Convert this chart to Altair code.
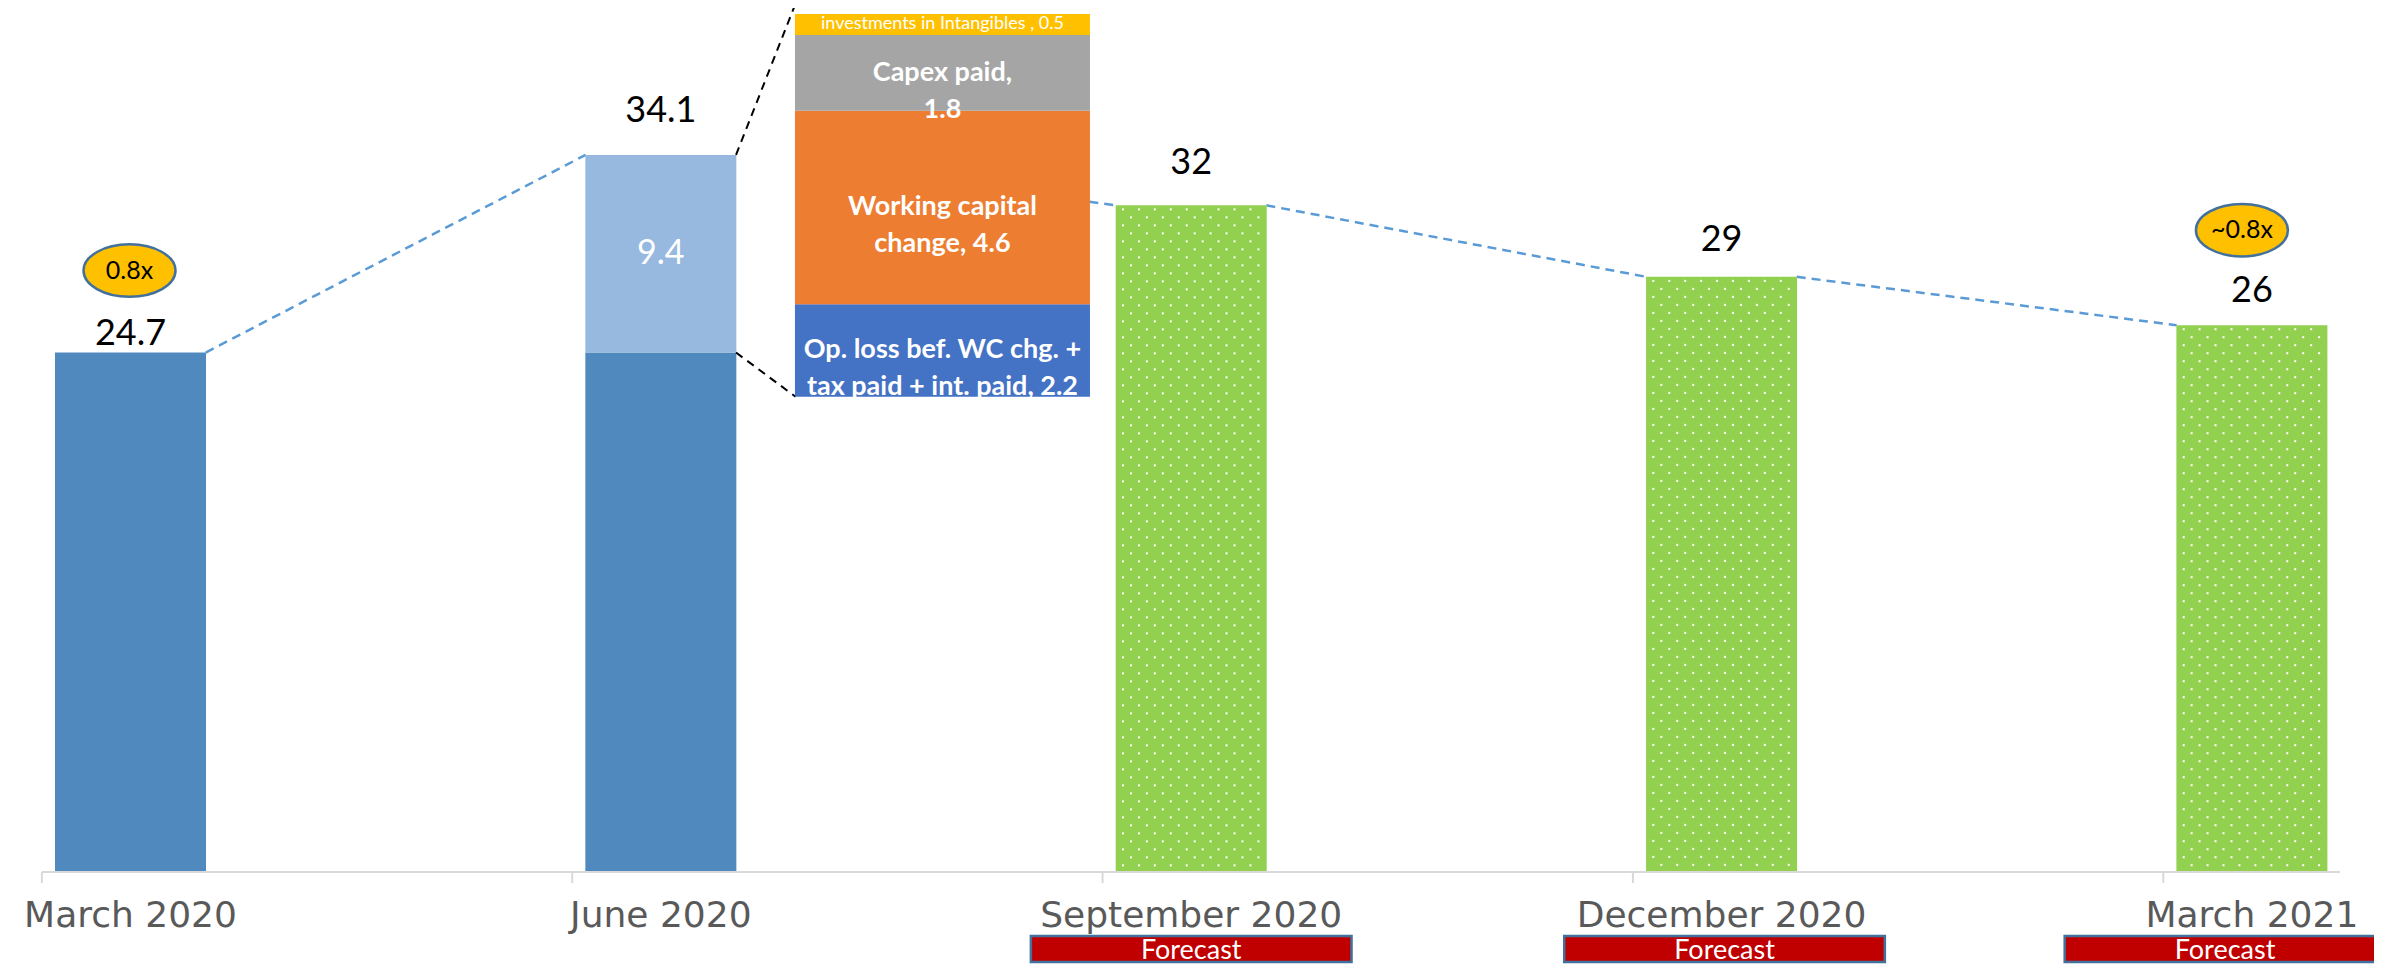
import altair as alt
import pandas as pd

# ---------------- data ----------------
periods = ["March 2020", "June 2020", "September 2020", "December 2020", "March 2021"]
bar_values = [24.7, 34.1, 31.7, 28.3, 26.0]
value_labels = ["24.7", "34.1", "32", "29", "26"]
is_forecast = [False, False, True, True, True]
june_base = 24.7
june_increase = 9.4
june_increase_label = "9.4"

breakdown_labels = [
    "Op. loss bef. WC chg. +\ntax paid + int. paid, 2.2",
    "Working capital\nchange, 4.6",
    "Capex paid,\n1.8",
    "investments in Intangibles , 0.5",
]
breakdown_values = [2.2, 4.6, 1.8, 0.5]
breakdown_base = 22.6
breakdown_zoom = 2.0

multiple_labels = ["0.8x", "~0.8x"]
multiple_periods = ["March 2020", "March 2021"]
forecast_text = "Forecast"

# ---------------- layout / style ----------------
PLOT_W, PLOT_H = 2366, 864
PAD_BOTTOM = 92
PX_STEP = 532.6          # px between category centres
PX_UNIT = 21.03          # px per value unit
FIRST_CENTER = 118       # px of first bar centre
BAR_PX = 151
STACK_PX = 295
STACK_OFFSET = 0.531     # breakdown column offset from June (steps)
BOX_PX = 322
AXIS_START = -0.1671
AXIS_END = 4.1664
TICK_PX = 11
label_gap_px = [8, 33, 31, 26, 23]
oval_lift_px = [82, 95]
oval_dx_px = [-1, -10]
box_shift_px = [0, 3, -27]

C_ACTUAL = "#4F89BD"
C_INCREASE = "#97B9E0"
C_FORECAST = "#92D050"
breakdown_colors = ["#4472C4", "#ED7D31", "#A5A5A5", "#FFC000"]

xs = alt.Scale(domain=[-FIRST_CENTER / PX_STEP, (PLOT_W - FIRST_CENTER) / PX_STEP], nice=False, zero=False)
ys = alt.Scale(domain=[0, PLOT_H / PX_UNIT], nice=False, zero=False)
hw = BAR_PX / 2 / PX_STEP


def X(f):
    return alt.X(f, type="quantitative", scale=xs, axis=None)


def Y(f):
    return alt.Y(f, type="quantitative", scale=ys, axis=None)


# ---------------- tables ----------------
bars = []
for i, (p, v, fc) in enumerate(zip(periods, bar_values, is_forecast)):
    if fc:
        bars.append(dict(i=i, y0=0.0, y1=v, kind="forecast"))
    elif p == "June 2020":
        bars.append(dict(i=i, y0=0.0, y1=june_base, kind="actual"))
        bars.append(dict(i=i, y0=june_base, y1=june_base + june_increase, kind="increase"))
    else:
        bars.append(dict(i=i, y0=0.0, y1=v, kind="actual"))
bars_df = pd.DataFrame(bars)
fc_df = bars_df[bars_df.kind == "forecast"].reset_index(drop=True)

june_i = periods.index("June 2020")
stack_c = june_i + STACK_OFFSET
stack_hw = STACK_PX / 2 / PX_STEP

segs = []
for k in range(len(bar_values) - 1):
    x0, x1 = k + hw, k + 1 - hw
    y0, y1 = bar_values[k], bar_values[k + 1]
    if k == june_i:
        # the part running behind the breakdown column is hidden
        xr = stack_c + stack_hw
        y0 = y0 + (y1 - y0) * (xr - x0) / (x1 - x0)
        x0 = xr
    segs.append(dict(x0=x0, x1=x1, y0=y0, y1=y1))
seg_df = pd.DataFrame(segs)

stk = []
acc = breakdown_base
for lab, v, c in zip(breakdown_labels, breakdown_values, breakdown_colors):
    y0 = acc
    y1 = acc + v * breakdown_zoom
    stk.append(dict(x=stack_c, y0=y0, y1=y1, ym=(y0 + y1) / 2, label=lab, color=c,
                    small=lab.startswith("investments")))
    acc = y1
stk_df = pd.DataFrame(stk)

black_df = pd.DataFrame([
    dict(x0=june_i + hw, y0=june_base + june_increase, x1=stack_c - stack_hw, y1=acc + 0.5),
    dict(x0=june_i + hw, y0=june_base, x1=stack_c - stack_hw, y1=breakdown_base),
])

lab_df = pd.DataFrame(dict(
    i=list(range(len(periods))),
    y=[v + g / PX_UNIT for v, g in zip(bar_values, label_gap_px)],
    text=value_labels,
    period=periods,
    base=[0.0] * len(periods),
))

oval_df = pd.DataFrame([
    dict(x=periods.index(p) + dx / PX_STEP, y=bar_values[periods.index(p)] + l / PX_UNIT, text=t)
    for p, t, l, dx in zip(multiple_periods, multiple_labels, oval_lift_px, oval_dx_px)
])

fc_idx = [i for i, f in enumerate(is_forecast) if f]
box_df = pd.DataFrame([
    dict(xc=i + s / PX_STEP, x0=i + s / PX_STEP - BOX_PX / 2 / PX_STEP,
         x1=i + s / PX_STEP + BOX_PX / 2 / PX_STEP, text=forecast_text)
    for i, s in zip(fc_idx, box_shift_px)
])

tick_df = pd.DataFrame(dict(x=[i + AXIS_START for i in range(len(periods))],
                            y0=[0.0] * len(periods), y1=[-TICK_PX / PX_UNIT] * len(periods)))
axis_df = pd.DataFrame(dict(x0=[AXIS_START], x1=[AXIS_END], y=[0.0]))

inc_df = pd.DataFrame(dict(x=[june_i], y=[june_base + june_increase / 2], text=[june_increase_label]))

# ---------------- layers ----------------
connector = alt.Chart(seg_df).mark_rule(color="#5B9BD5", strokeWidth=2.5, strokeDash=[9, 6]).encode(
    x=X("x0"), x2="x1", y=Y("y0"), y2="y1")

main_bars = alt.Chart(bars_df).mark_bar(size=BAR_PX).encode(
    x=X("i"), y=Y("y0"), y2="y1",
    color=alt.Color("kind:N", scale=alt.Scale(domain=["actual", "increase", "forecast"],
                                              range=[C_ACTUAL, C_INCREASE, C_FORECAST]), legend=None))

dots = alt.Chart(fc_df).transform_calculate(
    col="sequence(0, 10)"
).transform_flatten(["col"]).transform_calculate(
    row=f"sequence(0, floor(datum.y1*{PX_UNIT}/8))"
).transform_flatten(["row"]).transform_calculate(
    off="7 + 16*datum.col + 8*(datum.row % 2)"
).transform_filter(f"datum.off < {BAR_PX - 1}").transform_calculate(
    dx=f"datum.i - {hw} + datum.off/{PX_STEP}",
    dy=f"datum.y1 - (4 + 8*datum.row)/{PX_UNIT}",
).transform_filter("datum.dy > 0.1").mark_square(size=4, color="white", opacity=1).encode(
    x=X("dx"), y=Y("dy"))

black_lines = alt.Chart(black_df).mark_rule(color="black", strokeWidth=2, strokeDash=[8, 6]).encode(
    x=X("x0"), x2="x1", y=Y("y0"), y2="y1")

stack = alt.Chart(stk_df).mark_bar(size=STACK_PX).encode(
    x=X("x"), y=Y("y0"), y2="y1", color=alt.Color("color:N", scale=None))

stack_text = alt.Chart(stk_df).transform_filter("!datum.small").mark_text(
    font="Lato", fontWeight="bold", fontSize=27, color="white", lineBreak="\n",
    lineHeight=37, baseline="middle", align="center").encode(x=X("x"), y=Y("ym"), text="label:N")

stack_small = alt.Chart(stk_df).transform_filter("datum.small").mark_text(
    font="Lato", fontSize=18, color="white", baseline="middle", align="center").encode(
    x=X("x"), y=Y("ym"), text="label:N")

value_text = alt.Chart(lab_df).mark_text(font="Lato", fontSize=36, color="black",
                                         baseline="alphabetic", align="center").encode(
    x=X("i"), y=Y("y"), text="text:N")

inc_text = alt.Chart(inc_df).mark_text(font="Lato", fontSize=34, color="white",
                                       baseline="middle", align="center").encode(
    x=X("x"), y=Y("y"), text="text:N")

oval_path = "M -1 0 A 1 0.57 0 1 0 1 0 A 1 0.57 0 1 0 -1 0 Z"
ovals = alt.Chart(oval_df).mark_point(shape=oval_path, size=92 * 92, filled=True, fill="#FFC000",
                                      stroke="#41719C", strokeWidth=2.5, opacity=1).encode(
    x=X("x"), y=Y("y"))
oval_text = alt.Chart(oval_df).mark_text(font="Lato", fontSize=25, color="black",
                                         baseline="middle", align="center").encode(
    x=X("x"), y=Y("y"), text="text:N")

axis_line = alt.Chart(axis_df).mark_rule(color="#D9D9D9", strokeWidth=2).encode(
    x=X("x0"), x2="x1", y=Y("y"))
ticks = alt.Chart(tick_df).mark_rule(color="#D9D9D9", strokeWidth=2).encode(
    x=X("x"), y=Y("y0"), y2="y1")
axis_labels = alt.Chart(lab_df).mark_text(font="DejaVu Sans", fontSize=36, color="#595959",
                                          baseline="alphabetic", align="center", dy=55).encode(
    x=X("i"), y=Y("base"), text="period:N")

boxes = alt.Chart(box_df).mark_rect(fill="#C00000", stroke="#41719C", strokeWidth=2.5).encode(
    x=X("x0"), x2="x1", y=alt.value(928), y2=alt.value(954))
box_text = alt.Chart(box_df).mark_text(font="Lato", fontSize=27, color="white",
                                       baseline="alphabetic", align="center").encode(
    x=X("xc"), y=alt.value(951), text="text:N")

chart = alt.layer(
    connector, main_bars, dots, black_lines, stack, stack_text, stack_small,
    value_text, inc_text, ovals, oval_text, axis_line, ticks, axis_labels, boxes, box_text,
).properties(
    width=PLOT_W, height=PLOT_H,
    padding={"left": 0, "top": 0, "right": 0, "bottom": PAD_BOTTOM},
    autosize=alt.AutoSizeParams(type="none"),
).configure_view(stroke=None)

chart.save("out.html", embed_options={"renderer": "svg", "actions": False})
